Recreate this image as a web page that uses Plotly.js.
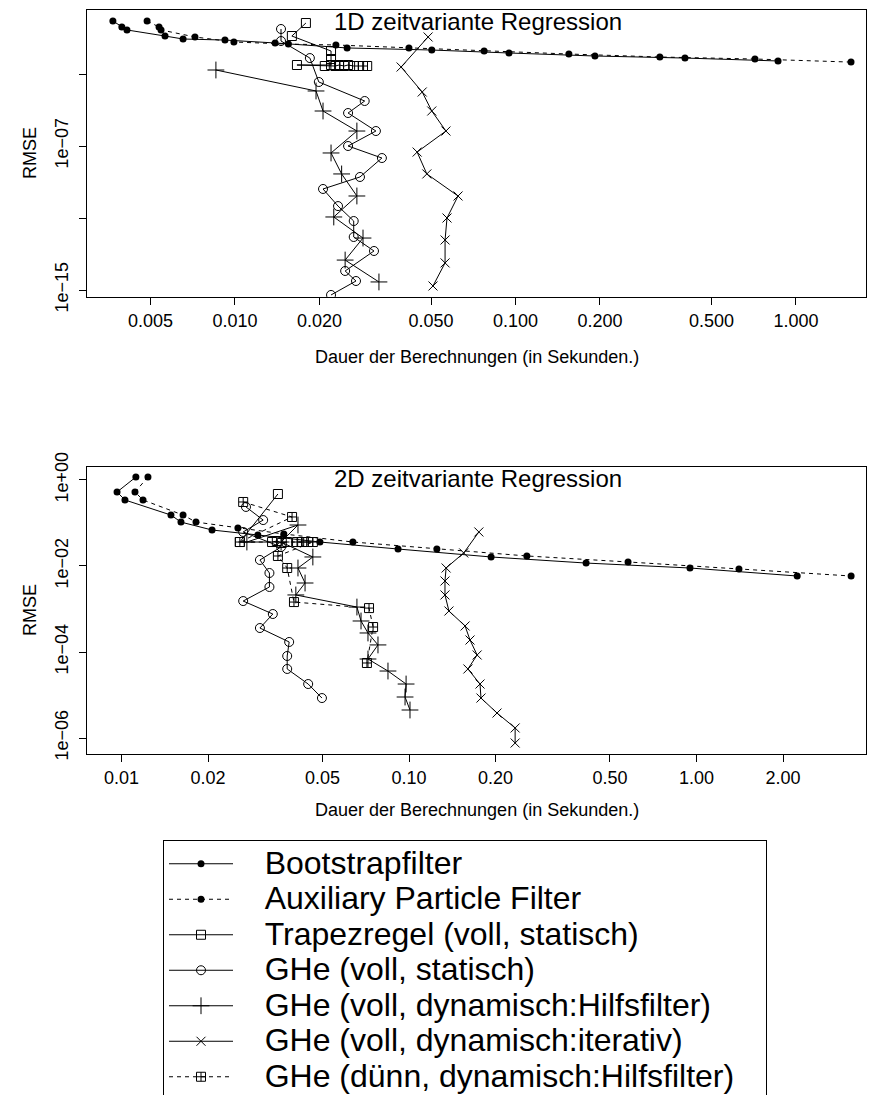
<!DOCTYPE html>
<html><head><meta charset="utf-8">
<script src="https://cdn.plot.ly/plotly-3.0.1.min.js"></script>
<style>html,body{margin:0;padding:0;background:#fff}#chart{width:872px;height:1095px}</style>
</head><body><div id="chart"></div>
<script>
const seriesNames = ["Bootstrapfilter","Auxiliary Particle Filter","Trapezregel (voll, statisch)","GHe (voll, statisch)","GHe (voll, dynamisch:Hilfsfilter)","GHe (voll, dynamisch:iterativ)","GHe (dünn, dynamisch:Hilfsfilter)"];

// ---- 1D zeitvariante Regression ----
const bf1_x = [0.00367,0.00395,0.00412,0.00563,0.00653,0.00921,0.0139,0.0251,0.0503,0.0948,0.192,0.402,0.863];
const bf1_y = [0.88,0.41,0.28,0.129,0.088,0.077,0.053,0.028,0.0215,0.0147,0.010,0.0077,0.0053];
const apf1_x = [0.00486,0.00536,0.00545,0.00720,0.00991,0.0155,0.0229,0.0417,0.0773,0.155,0.327,0.714,1.571];
const apf1_y = [0.88,0.41,0.28,0.114,0.060,0.046,0.041,0.028,0.019,0.0129,0.0088,0.0068,0.0046];
const tr1_x = [0.0179,0.01595,0.0220,0.0220,0.0220,0.01663,0.0209,0.0228,0.0235,0.0245,0.0253,0.0265,0.0277,0.0286,0.0296];
const tr1_y = [0.68,0.129,0.019,0.0068,0.00316,0.00316,0.00278,0.00278,0.00316,0.00278,0.00316,0.00278,0.00278,0.00278,0.00278];
const st1_x = [0.01459,0.01459,0.01849,0.0199,0.0290,0.0253,0.0318,0.0253,0.0334,0.0279,0.0206,0.0233,0.0265,0.0265,0.0313,0.0247,0.0270,0.0220];
const st1_y = [0.316,0.068,0.0077,3.6e-4,3.16e-5,6.8e-6,6.8e-7,1e-7,2.15e-8,1.9e-9,4.1e-10,4.6e-11,6.8e-12,8.8e-13,1.47e-13,1.14e-14,3.16e-15,5.3e-16];
const hf1_x = [0.00855,0.01945,0.0206,0.0272,0.0220,0.0240,0.0272,0.0225,0.0286,0.0247,0.0326];
const hf1_y = [1.67e-3,1.14e-4,8.8e-6,6.8e-7,4.1e-8,2.8e-9,1.67e-10,1.14e-11,7.7e-13,4.6e-14,2.8e-15];
const it1_x = [0.0488,0.0391,0.0465,0.0503,0.0565,0.0446,0.0483,0.0624,0.0570,0.0561,0.0561,0.0508];
const it1_y = [0.114,2.45e-3,1e-4,8.8e-6,6.8e-7,4.6e-8,2.8e-9,1.67e-10,1e-11,6e-13,3.2e-14,1.67e-15];

// ---- 2D zeitvariante Regression ----
const bf2_x = [0.01122,0.00965,0.01028,0.01486,0.0161,0.02065,0.0298,0.0490,0.0916,0.193,0.413,0.949,2.24];
const bf2_y = [1.17,0.526,0.343,0.153,0.105,0.0687,0.0526,0.0361,0.0248,0.0162,0.0117,0.00898,0.00585];
const apf2_x = [0.01236,0.01114,0.01188,0.01637,0.01816,0.0254,0.0367,0.0638,0.125,0.257,0.578,1.405,3.45];
const apf2_y = [1.17,0.526,0.343,0.153,0.105,0.0765,0.0555,0.0361,0.0248,0.0171,0.0124,0.00851,0.00585];
const tr2_x = [0.0350,0.0258,0.0334,0.0347,0.0361,0.0377];
const tr2_y = [0.472,0.0361,0.0361,0.0381,0.0343,0.0361];
const st2_x = [0.0271,0.0311,0.0265,0.0359,0.0303,0.0327,0.0327,0.0265,0.0336,0.0303,0.0383,0.0377,0.0377,0.0446,0.0498];
const st2_y = [0.236,0.117,0.0618,0.0277,0.0138,6.87e-3,3.25e-3,1.53e-3,7.65e-4,3.61e-4,1.71e-4,8.07e-5,4.03e-5,1.80e-5,8.5e-6];
const hf2_x = [0.0273,0.0411,0.0359,0.0463,0.0411,0.0435,0.0404,0.0659,0.0681,0.0720,0.0780,0.0720,0.0845,0.0977,0.0969,0.1008];
const hf2_y = [0.0361,0.0898,0.0361,0.0162,8.98e-3,4.02e-3,2.12e-3,1.11e-3,5.26e-4,2.77e-4,1.46e-4,6.87e-5,3.61e-5,1.80e-5,8.98e-6,4.48e-6];
const it2_x = [0.175,0.155,0.1346,0.1334,0.1334,0.1377,0.1567,0.163,0.1726,0.1603,0.1766,0.178,0.2024,0.234,0.234];
const it2_y = [0.0618,0.0201,8.98e-3,4.48e-3,2.12e-3,8.98e-4,4.03e-4,1.90e-4,8.52e-5,4.03e-5,1.80e-5,8.5e-6,3.81e-6,1.71e-6,7.65e-7];
const dn2_x = [0.0265,0.0392,0.0258,0.0408,0.0425,0.0446,0.0463,0.0350,0.0377,0.0398,0.0726,0.0750,0.0714];
const dn2_y = [0.308,0.138,0.0361,0.0361,0.0361,0.0361,0.0361,0.0171,8.98e-3,1.45e-3,1.05e-3,3.81e-4,5.55e-5];

// tick labels
const x1_tickvals = [0.005,0.01,0.02,0.05,0.1,0.2,0.5,1];
const x1_ticktext = ["0.005","0.010","0.020","0.050","0.100","0.200","0.500","1.000"];
const y1_tickvals = [1e-15,1e-11,1e-7,1e-3];
const y1_ticktext = ["1e\u221215","","1e\u221207",""];
const x2_tickvals = [0.01,0.02,0.05,0.1,0.2,0.5,1,2];
const x2_ticktext = ["0.01","0.02","0.05","0.10","0.20","0.50","1.00","2.00"];
const y2_tickvals = [1,1e-2,1e-4,1e-6];
const y2_ticktext = ["1e+00","1e\u221202","1e\u221204","1e\u221206"];

const FONT = "Liberation Sans, Arial, Helvetica, sans-serif";
const styles = [
  {symbol:"circle", size:7, dash:"solid", lw:0},
  {symbol:"circle", size:7, dash:"4px,4px", lw:0},
  {symbol:"square-open", size:9, dash:"solid", lw:1},
  {symbol:"circle-open", size:9, dash:"solid", lw:1},
  {symbol:"cross-thin-open", size:12, dash:"solid", lw:1},
  {symbol:"x-thin-open", size:9, dash:"solid", lw:1},
  {symbol:"square-cross-open", size:9, dash:"4px,4px", lw:1}
];
const NB = "\u00a0";
function legendLabel(i){
  const tail = (i === 6) ? NB+NB+NB : "";
  return '<span style="font-size:32px">' + NB + NB + NB + seriesNames[i] + tail + '</span>';
}
function tr(i, xs, ys, xa, ya, show){
  const s = styles[i];
  return {type:"scatter", mode:"lines+markers", x:xs, y:ys, xaxis:xa, yaxis:ya,
    name:legendLabel(i), legendgroup:"g"+i, showlegend:show,
    line:{color:"#000", width:1, dash:s.dash},
    marker:{symbol:s.symbol, size:s.size, color:"#000", line:{color:"#000", width:s.lw}},
    cliponaxis:true, hoverinfo:"x+y"};
}
const data = [
  tr(0,bf1_x,bf1_y,"x","y",true),
  tr(1,apf1_x,apf1_y,"x","y",true),
  tr(2,tr1_x,tr1_y,"x","y",true),
  tr(3,st1_x,st1_y,"x","y",true),
  tr(4,hf1_x,hf1_y,"x","y",true),
  tr(5,it1_x,it1_y,"x","y",true),
  tr(0,bf2_x,bf2_y,"x2","y2",false),
  tr(1,apf2_x,apf2_y,"x2","y2",false),
  tr(2,tr2_x,tr2_y,"x2","y2",false),
  tr(3,st2_x,st2_y,"x2","y2",false),
  tr(4,hf2_x,hf2_y,"x2","y2",false),
  tr(5,it2_x,it2_y,"x2","y2",false),
  tr(6,dn2_x,dn2_y,"x2","y2",true)
];
const W=872, H=1095;
const px = v => v/W, py = v => 1 - v/H;
const TICKF = {family:FONT, size:18, color:"#000"};
const axBase = {type:"log", showline:true, mirror:true, linecolor:"#000", linewidth:1,
  ticks:"outside", ticklen:7, tickwidth:1, tickcolor:"#000", showgrid:false, zeroline:false,
  tickmode:"array", tickfont:TICKF};
const layout = {
  width:W, height:H, margin:{l:0,r:0,t:0,b:0,autoexpand:false}, paper_bgcolor:"#fff", plot_bgcolor:"#fff",
  font:{family:FONT, color:"#000"}, showlegend:true,
  xaxis:Object.assign({}, axBase, {domain:[px(87),px(866)], anchor:"y", range:[-2.5276,0.2496], tickvals:x1_tickvals, ticktext:x1_ticktext, ticklabelstandoff:0}),
  yaxis:Object.assign({}, axBase, {domain:[py(297),py(10)], anchor:"x", range:[-15.389,0.556], tickvals:y1_tickvals, ticktext:y1_ticktext, tickangle:-90, ticklabelstandoff:4}),
  xaxis2:Object.assign({}, axBase, {domain:[px(87),px(866)], anchor:"y2", range:[-2.120,0.5896], tickvals:x2_tickvals, ticktext:x2_ticktext, ticklabelstandoff:0}),
  yaxis2:Object.assign({}, axBase, {domain:[py(754),py(467)], anchor:"x2", range:[-6.372,0.302], tickvals:y2_tickvals, ticktext:y2_ticktext, tickangle:-90, ticklabelstandoff:4}),
  legend:{x:px(163), y:py(840), xanchor:"left", yanchor:"top", bordercolor:"#000", borderwidth:1,
    bgcolor:"#fff", font:{family:FONT, size:25, color:"#000"}, itemwidth:64, tracegroupgap:0, traceorder:"normal"},
  annotations:[
    {text:"1D zeitvariante Regression", xref:"paper", yref:"paper", x:px(478), y:py(21), xanchor:"center", yanchor:"middle", showarrow:false, font:{family:FONT, size:24}},
    {text:"2D zeitvariante Regression", xref:"paper", yref:"paper", x:px(478), y:py(478), xanchor:"center", yanchor:"middle", showarrow:false, font:{family:FONT, size:24}},
    {text:"Dauer der Berechnungen (in Sekunden.)", xref:"paper", yref:"paper", x:px(476.5), y:py(357), xanchor:"center", yanchor:"middle", showarrow:false, font:{family:FONT, size:18}},
    {text:"Dauer der Berechnungen (in Sekunden.)", xref:"paper", yref:"paper", x:px(476.5), y:py(810), xanchor:"center", yanchor:"middle", showarrow:false, font:{family:FONT, size:18}},
    {text:"RMSE", xref:"paper", yref:"paper", x:px(30), y:py(153), xanchor:"center", yanchor:"middle", textangle:-90, showarrow:false, font:{family:FONT, size:18}},
    {text:"RMSE", xref:"paper", yref:"paper", x:px(30), y:py(610), xanchor:"center", yanchor:"middle", textangle:-90, showarrow:false, font:{family:FONT, size:18}}
  ]
};
Plotly.newPlot("chart", data, layout, {staticPlot:true, displayModeBar:false});
</script></body></html>
